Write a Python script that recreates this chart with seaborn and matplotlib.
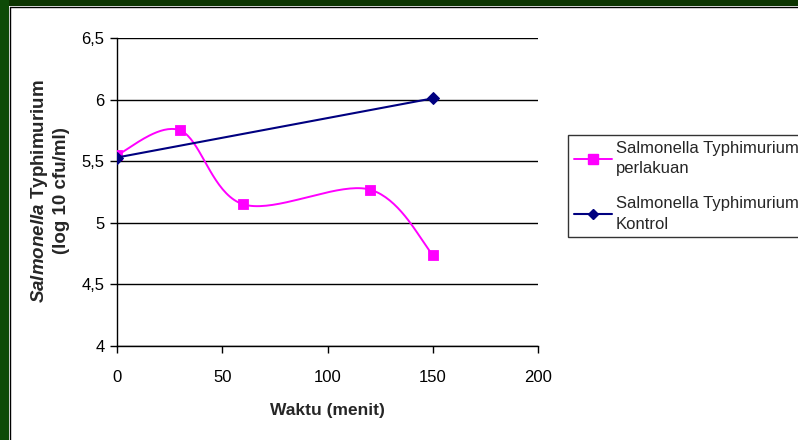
import numpy as np
import pandas as pd
import matplotlib
matplotlib.use("Agg")
import matplotlib.pyplot as plt
from matplotlib.lines import Line2D
from matplotlib.patches import Rectangle
from matplotlib.ticker import FuncFormatter
import seaborn as sns

# ---- data ----
waktu_perlakuan = [0, 30, 60, 120, 150]
log_perlakuan = [5.55, 5.75, 5.15, 5.27, 4.74]
waktu_kontrol = [0, 150]
log_kontrol = [5.53, 6.01]
label_perlakuan = "Salmonella Typhimurium\nperlakuan"
label_kontrol = "Salmonella Typhimurium\nKontrol"
x_ticks = [0, 50, 100, 150, 200]
y_ticks = [4, 4.5, 5, 5.5, 6, 6.5]

sns.set_theme(style="white")
plt.rcParams['font.family'] = ['Liberation Sans', 'DejaVu Sans']
plt.rcParams['mathtext.fontset'] = 'custom'
plt.rcParams['mathtext.it'] = 'Liberation Sans:italic:bold'
plt.rcParams['mathtext.rm'] = 'Liberation Sans:bold'

fig = plt.figure(figsize=(7.98, 4.40), dpi=100)
fig.patch.set_facecolor("white")
ax = fig.add_axes([117/798, 1-346/440, (538-117)/798, (346-38)/440])

# green frame
fig.patches.append(Rectangle((0, 1-6.5/440), 1, 6.5/440, transform=fig.transFigure,
                             facecolor="#0b3400", edgecolor="none", zorder=0))
fig.patches.append(Rectangle((0, 0), 9/798, 1, transform=fig.transFigure,
                             facecolor="#0d4a07", edgecolor="none", zorder=0))
fig.add_artist(Line2D([9.5/798, 1], [1-7/440, 1-7/440], color="black", lw=1.0,
                      transform=fig.transFigure))
fig.add_artist(Line2D([9.5/798, 9.5/798], [0, 1-7/440], color="black", lw=1.0,
                      transform=fig.transFigure))

xmin, xmax, ymin, ymax = 0, 200, 4, 6.5

# smoothed curve (Excel-style Catmull-Rom Bezier) built from the data points
px = np.array(waktu_perlakuan, float) / (xmax - xmin) * 421
py = np.array(log_perlakuan, float) / (ymax - ymin) * 308
P = np.column_stack([px, py])
n = len(P)
curve = []
t = np.linspace(0, 1, 40)[:, None]
for i in range(n - 1):
    p0 = P[i - 1] if i > 0 else P[i]
    p1 = P[i]
    p2 = P[i + 1]
    p3 = P[i + 2] if i + 2 < n else P[i + 1]
    c1 = p1 + (p2 - p0) / 6
    c2 = p2 - (p3 - p1) / 6
    seg = ((1 - t) ** 3) * p1 + 3 * ((1 - t) ** 2) * t * c1 + 3 * (1 - t) * t ** 2 * c2 + t ** 3 * p2
    curve.append(seg if i == 0 else seg[1:])
curve = np.vstack(curve)
smooth_df = pd.DataFrame({"x": curve[:, 0] / 421 * (xmax - xmin),
                          "y": curve[:, 1] / 308 * (ymax - ymin)})

for yv in y_ticks:
    ax.axhline(yv, color="black", lw=1.0, zorder=1)

sns.lineplot(data=smooth_df, x="x", y="y", ax=ax, color="#ff00ff", lw=1.4,
             sort=False, estimator=None, zorder=3)
sns.scatterplot(x=waktu_perlakuan, y=log_perlakuan, ax=ax, marker="s", s=55,
                color="#ff00ff", edgecolor="#ff00ff", zorder=4)
sns.lineplot(x=waktu_kontrol, y=log_kontrol, ax=ax, color="#000080", lw=1.5,
             marker="D", markersize=6.5, markeredgecolor="#000080", zorder=5)

ax.set_xlim(xmin, xmax)
ax.set_ylim(ymin, ymax)
ax.set_xticks(x_ticks)
ax.set_yticks(y_ticks)
ax.yaxis.set_major_formatter(FuncFormatter(lambda v, p: f"{v:g}".replace(".", ",")))
tick_font = ['Liberation Sans Narrow', 'Liberation Sans']
for lab in ax.get_xticklabels() + ax.get_yticklabels():
    lab.set_fontfamily(tick_font)
    lab.set_fontsize(12)
    lab.set_color("black")
ax.tick_params(axis="both", which="major", direction="out", length=5, width=1,
               color="black", left=True, bottom=True, pad=4)
ax.tick_params(axis="x", pad=12)
for s in ["top", "right"]:
    ax.spines[s].set_visible(False)
for s in ["left", "bottom"]:
    ax.spines[s].set_color("black")
    ax.spines[s].set_linewidth(1.0)
ax.set_facecolor("white")

ax.set_xlabel("Waktu (menit)", fontsize=12.5, fontweight="bold",
              family=tick_font, labelpad=13)
ax.set_ylabel("")
fig.text(40/798, 1-191/440, r"$\mathit{Salmonella}$ Typhimurium", rotation=90,
         ha="center", va="center", fontsize=13.5, fontweight="bold")
fig.text(62/798, 1-191/440, "(log 10 cfu/ml)", rotation=90,
         ha="center", va="center", fontsize=13.5, fontweight="bold")

handles = [
    Line2D([], [], color="#ff00ff", lw=1.4, marker="s", markersize=6.5,
           markeredgecolor="#ff00ff"),
    Line2D([], [], color="#000080", lw=1.5, marker="D", markersize=5.5,
           markeredgecolor="#000080"),
]
leg = fig.legend(handles, [label_perlakuan, label_kontrol], loc="upper left",
                 bbox_to_anchor=(568/798, 1-135/440), fontsize=12, frameon=True,
                 fancybox=False, edgecolor="black", handlelength=2.3,
                 handletextpad=0.2, borderpad=0.35, labelspacing=1.2,
                 borderaxespad=0)
for txt in leg.get_texts():
    txt.set_linespacing(1.45)
leg.get_frame().set_linewidth(1.0)

fig.savefig("out.png", dpi=100, facecolor="white")
